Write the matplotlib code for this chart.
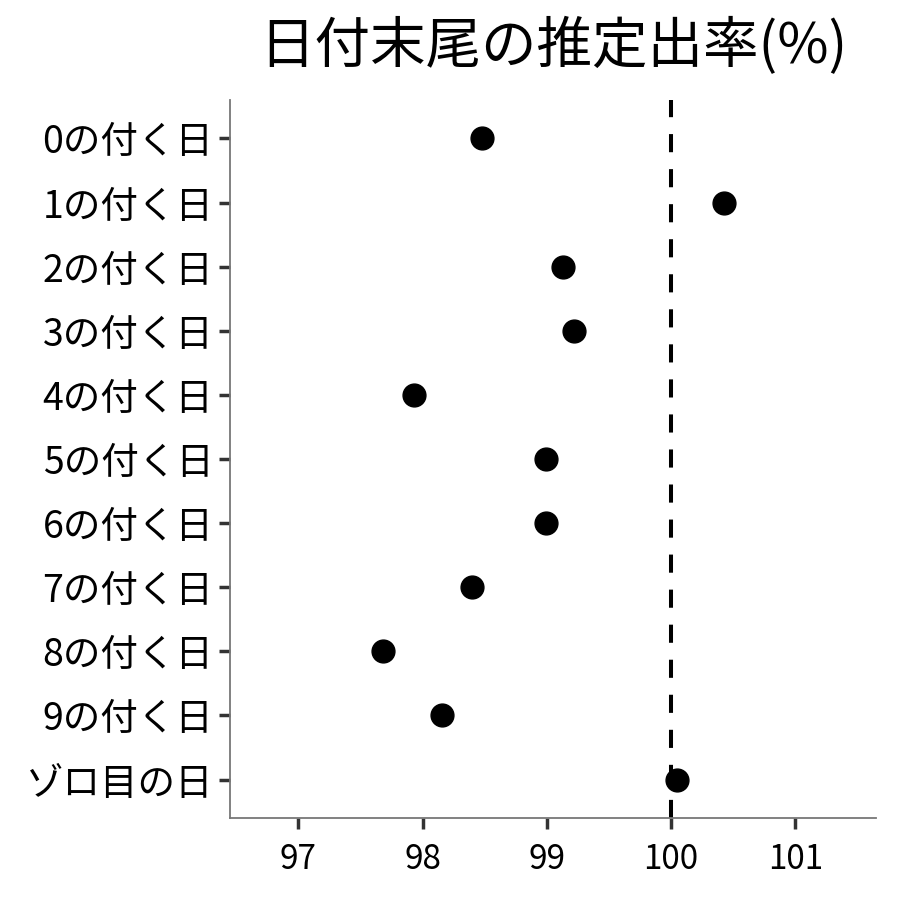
import matplotlib
matplotlib.use('Agg')
import matplotlib.pyplot as plt

plt.rcParams['font.family'] = ['Noto Sans CJK JP', 'DejaVu Sans']

# data
labels = ['0の付く日', '1の付く日', '2の付く日', '3の付く日', '4の付く日',
          '5の付く日', '6の付く日', '7の付く日', '8の付く日', '9の付く日', 'ゾロ目の日']
rates = [98.48, 100.43, 99.13, 99.22, 97.93, 98.99, 98.99, 98.40, 97.68, 98.16, 100.05]
xticks = [97, 98, 99, 100, 101]

fig = plt.figure(figsize=(9, 9), dpi=100)
ax = fig.add_axes([0.2556, 0.0911, 0.7177, 0.7978])

ypos = list(range(len(labels), 0, -1))
ax.axvline(100, color='black', linestyle=(0, (4.5, 4.2)), linewidth=2.9, zorder=1)
ax.scatter(rates, ypos, s=270, color='black', zorder=3)

ax.set_xlim(96.45, 101.65)
ax.set_ylim(0.4, len(labels) + 0.6)
ax.set_xticks(xticks)
ax.set_xticklabels([str(t) for t in xticks])
ax.set_yticks(ypos)
ax.set_yticklabels(labels)

for s in ['top', 'right']:
    ax.spines[s].set_visible(False)
for s in ['left', 'bottom']:
    ax.spines[s].set_color('#777777')
    ax.spines[s].set_linewidth(1.3)
ax.tick_params(axis='both', length=8, width=2.5, color='#333333')
ax.tick_params(axis='x', labelsize=24, pad=9)
ax.tick_params(axis='y', labelsize=27, pad=4)

fig.text(0.615, 0.948, '日付末尾の推定出率(%)', fontsize=40, ha='center', va='center')

fig.savefig('out.png', dpi=100)
